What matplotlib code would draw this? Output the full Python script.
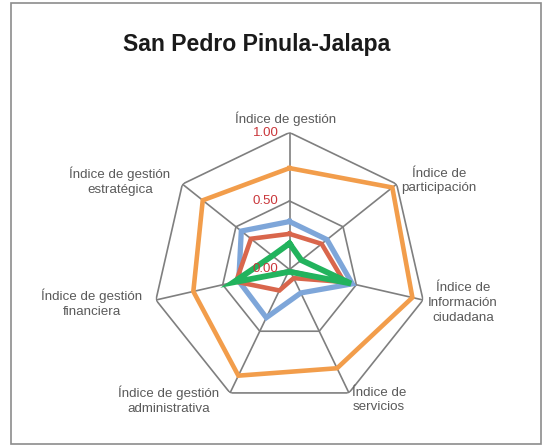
import numpy as np
import matplotlib
matplotlib.use("Agg")
import matplotlib.pyplot as plt
from matplotlib import transforms
from matplotlib.patches import Rectangle

plt.rcParams['font.family'] = ['Liberation Sans', 'DejaVu Sans']

title = "San Pedro Pinula-Jalapa"
categories = ["Índice de gestión", "Índice de\nparticipación", "Índice de\nInformación\nciudadana",
              "Índice de\nservicios", "Índice de gestión\nadministrativa", "Índice de gestión\nfinanciera",
              "Índice de gestión\nestratégica"]
orange_vals = [0.74, 0.96, 0.92, 0.80, 0.86, 0.72, 0.81]
blue_vals = [0.35, 0.35, 0.47, 0.19, 0.39, 0.38, 0.45]
red_vals = [0.26, 0.30, 0.41, 0.07, 0.17, 0.40, 0.36]
green_vals = [0.19, 0.11, 0.46, 0.02, 0.02, 0.42, 0.16]
ticks = [0.0, 0.5, 1.0]
tick_labels = ["0.00", "0.50", "1.00"]

W, H = 547, 446
fig = plt.figure(figsize=(W / 100, H / 100), dpi=100)

# frame around the chart
fig.patches.append(Rectangle((11 / W, 2 / H), 530 / W, 441 / H, transform=fig.transFigure,
                             fill=False, edgecolor='#8c8c8c', linewidth=1.2))

cx, cy, R = 289.5, 269.5, 137
ax = fig.add_axes([(cx - R) / W, (H - cy - R) / H, 2 * R / W, 2 * R / H], projection='polar')
ax.set_theta_offset(np.pi / 2)
ax.set_theta_direction(-1)
ax.set_ylim(0, 1)
ax.grid(False)
ax.spines['polar'].set_visible(False)
ax.set_xticks([])
ax.set_yticks([])
ax.patch.set_alpha(0)

n = len(categories)
angles = np.linspace(0, 2 * np.pi, n, endpoint=False)
closed = np.append(angles, angles[0])

grid_c = '#7f7f7f'
for r in ticks[1:]:
    ax.plot(closed, [r] * (n + 1), color=grid_c, lw=1.2, zorder=1)
for a in angles:
    ax.plot([a, a], [0, 1], color=grid_c, lw=1.2, zorder=1)

series = [(orange_vals, '#f29d4b', 3.3), (blue_vals, '#7ea6d9', 3.8),
          (red_vals, '#d9664c', 3.3), (green_vals, '#22b35d', 4.2)]
for vals, col, lw in series:
    ax.plot(closed, vals + vals[:1], color=col, lw=lw, solid_joinstyle='miter', zorder=3)

off = transforms.offset_copy(ax.transData, fig=fig, x=-11, y=0, units='dots')
for t, lab in zip(ticks, tick_labels):
    ax.text(0, t, lab, transform=off, ha='right', va='center', color='#c9363a', fontsize=9.5, zorder=5)

label_pos = [(286, 119), (439, 181), (463, 303), (379, 400), (169, 400), (92, 303), (120, 181)]
for lab, (x, y) in zip(categories, label_pos):
    fig.text(x / W, 1 - y / H, lab, ha='center', va='center', color='#5a5a5a',
             fontsize=9.6, linespacing=1.28)

fig.text(257 / W, 1 - 44 / H, title, ha='center', va='center', fontsize=16.6,
         fontweight='bold', color='#1a1a1a')

fig.savefig("out.png", dpi=100)
